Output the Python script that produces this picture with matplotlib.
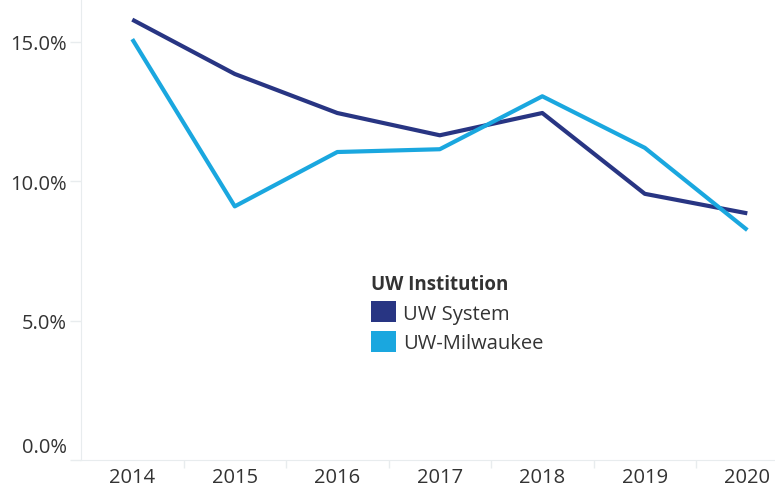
import matplotlib
matplotlib.use('Agg')
import matplotlib.pyplot as plt
import matplotlib.transforms as mtransforms
from matplotlib.patches import Patch

YEARS     = ['2014', '2015', '2016', '2017', '2018', '2019', '2020']
UW_SYSTEM = [15.8, 13.85, 12.45, 11.65, 12.45, 9.55, 8.85]
UW_MILW   = [15.1, 9.1, 11.05, 11.15, 13.05, 11.2, 8.25]
Y_TICKS   = [0, 5, 10, 15]

DARK  = '#283583'
LIGHT = '#1aa7df'
TXT   = '#333333'
AXC   = '#e8ecee'
FS    = 14.5

plt.rcParams['font.family'] = ['Open Sans', 'DejaVu Sans']

fig = plt.figure(figsize=(7.75, 4.89), dpi=100)
ax = fig.add_axes([81 / 775, 28 / 489, 1 - 81 / 775, 1 - 28 / 489])

x = range(len(YEARS))
ax.plot(x, UW_SYSTEM, color=DARK, linewidth=3, solid_capstyle='butt', zorder=3)
ax.plot(x, UW_MILW, color=LIGHT, linewidth=3, solid_capstyle='butt', zorder=3)

ax.set_xlim(-0.5, 6.27)
ax.set_ylim(0, 16.54)

# ── axes styling ─────────────────────────────────────────────────────────────
for side in ('top', 'right'):
    ax.spines[side].set_visible(False)
ax.spines['left'].set_color(AXC)
ax.spines['bottom'].set_color(AXC)

ax.set_xticks(list(x))
ax.set_xticklabels(YEARS)
ax.set_xticks([i + 0.5 for i in range(len(YEARS) - 1)], minor=True)
ax.tick_params(axis='x', which='major', length=0, pad=5, labelsize=FS, labelcolor=TXT)
ax.tick_params(axis='x', which='minor', length=6, color=AXC, width=1)

ax.set_yticks(Y_TICKS)
ax.set_yticklabels([f'{v:.1f}%' for v in Y_TICKS])
ax.tick_params(axis='y', length=8, color=AXC, width=1, pad=2,
               labelsize=FS, labelcolor=TXT)
# Tableau nudges the bottom label up off the axis line
lbl0 = ax.get_yticklabels()[0]
lbl0.set_transform(lbl0.get_transform() +
                   mtransforms.ScaledTranslation(0, 15 / 100, fig.dpi_scale_trans))

# ── legend ───────────────────────────────────────────────────────────────────
handles = [Patch(facecolor=DARK, edgecolor='none', label='UW System'),
           Patch(facecolor=LIGHT, edgecolor='none', label='UW-Milwaukee')]
leg = fig.legend(handles=handles, title='UW Institution', loc='upper left',
                 bbox_to_anchor=(361 / 775, 1 - 265 / 489), frameon=False,
                 fontsize=FS, title_fontsize=13.5, handlelength=1.25,
                 handleheight=1.25, handletextpad=0.35, labelspacing=0.35,
                 borderpad=0, alignment='left')
leg.get_title().set_fontweight('bold')
leg.get_title().set_color(TXT)
for t in leg.get_texts():
    t.set_color(TXT)

fig.savefig('out.png', dpi=100)
